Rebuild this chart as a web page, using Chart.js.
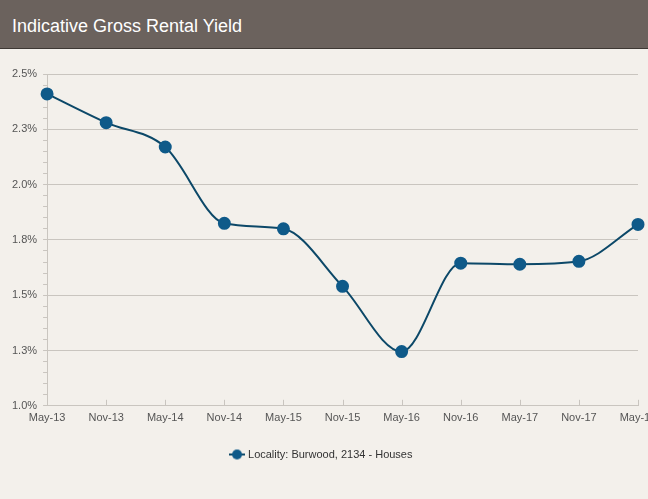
<!DOCTYPE html>
<html>
<head>
<meta charset="utf-8">
<script src="https://cdn.jsdelivr.net/npm/chart.js@4"></script>
<style>
  html, body { margin: 0; padding: 0; overflow: hidden; background: #f3f0eb; }
  #header {
    height: 48px;
    background: #6b625d;
    border-bottom: 1px solid #3e3834;
    color: #fff;
    font-family: "Liberation Sans", Arial, sans-serif;
    font-size: 18px;
    line-height: 52px;
    padding-left: 12px;
  }
  #wrap { position: relative; width: 672px; height: 450px; }
</style>
</head>
<body>
<div id="header">Indicative Gross Rental Yield</div>
<div id="wrap"><canvas id="chart-1"></canvas></div>
<script>
// data
const periods = ["May-13", "Nov-13", "May-14", "Nov-14", "May-15", "Nov-15",
                 "May-16", "Nov-16", "May-17", "Nov-17", "May-18"];
const yieldPct = [2.41, 2.28, 2.17, 1.825, 1.80, 1.54, 1.245, 1.645, 1.64, 1.653, 1.82];
const seriesName = "Locality: Burwood, 2134 - Houses";

const lineCol = "#0c4868";
const dotCol = "#0f5a89";
const gridCol = "#c9c5bf";

// legend marker: short line with a dot
const mark = document.createElement("canvas");
mark.width = 16; mark.height = 12;
const mc = mark.getContext("2d");
mc.strokeStyle = lineCol; mc.lineWidth = 2;
mc.beginPath(); mc.moveTo(0, 6); mc.lineTo(16, 6); mc.stroke();
mc.fillStyle = dotCol;
mc.beginPath(); mc.arc(8, 6, 5, 0, Math.PI * 2); mc.fill();

function isMajor(v) {
  return Math.abs(v * 4 - Math.round(v * 4)) < 1e-6;
}

// small ticks pointing up from the x axis
const innerTicks = {
  id: "innerTicks",
  afterDraw(chart) {
    const xs = chart.scales.x;
    const c = chart.ctx;
    c.save();
    c.strokeStyle = gridCol;
    c.lineWidth = 1;
    xs.ticks.forEach((t, i) => {
      const px = Math.round(xs.getPixelForTick(i)) + 0.5;
      c.beginPath();
      c.moveTo(px, xs.top);
      c.lineTo(px, xs.top - 6);
      c.stroke();
    });
    c.restore();
  }
};

Chart.defaults.font.family = '"Liberation Sans", Arial, sans-serif';
Chart.defaults.font.size = 11;
Chart.defaults.color = "#555";

const ctx1 = document.getElementById("chart-1").getContext("2d");
const myChart = new Chart(ctx1, {
  type: "line",
  data: {
    labels: periods,
    datasets: [
      {
        label: seriesName,
        data: yieldPct,
        borderColor: lineCol,
        borderWidth: 2,
        backgroundColor: dotCol,
        pointBackgroundColor: dotCol,
        pointBorderColor: dotCol,
        pointRadius: 5.5,
        pointHoverRadius: 5.5,
        cubicInterpolationMode: "monotone",
        clip: false,
      },
    ],
  },
  options: {
    responsive: true,
    maintainAspectRatio: false,
    animation: false,
    layout: { padding: { left: 6, right: 34, top: 25, bottom: 29 } },
    plugins: {
      tooltip: { enabled: false },
      legend: {
        position: "bottom",
        labels: {
          usePointStyle: true,
          pointStyle: mark,
          color: "#333",
          padding: 26,
          font: { size: 11 },
        },
      },
    },
    scales: {
      x: {
        offset: false,
        grid: { display: false },
        border: { display: true, color: gridCol },
        ticks: { padding: -2, maxRotation: 0, autoSkip: false, color: "#555" },
      },
      y: {
        min: 1.0,
        max: 2.5,
        grid: {
          color: (c) => (isMajor(c.tick.value) ? gridCol : "rgba(0,0,0,0)"),
          tickColor: gridCol,
          tickLength: 4,
        },
        border: { display: true, color: gridCol },
        ticks: {
          stepSize: 0.05,
          maxTicksLimit: 40,
          autoSkip: false,
          padding: 6,
          color: "#555",
          callback: (v) => (isMajor(v) ? v.toFixed(1) + "%" : ""),
        },
      },
    },
  },
  plugins: [innerTicks],
});
</script>
</body>
</html>
